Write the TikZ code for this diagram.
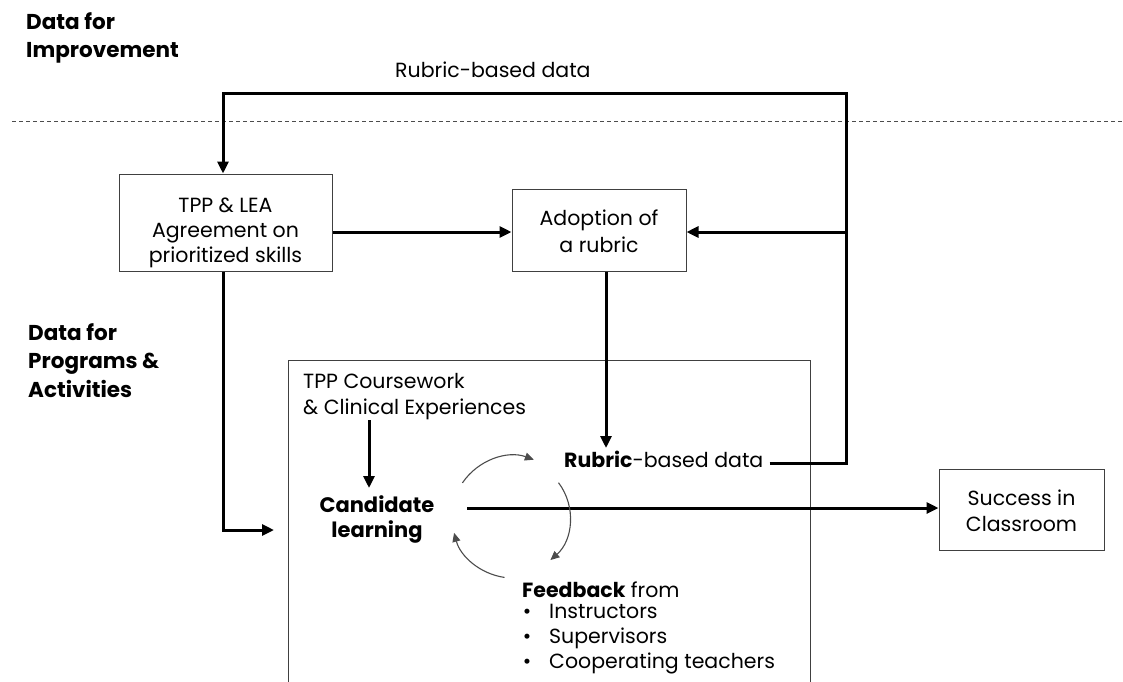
\documentclass[tikz,border=0pt]{standalone}
\usepackage{fontspec}
\setmainfont{Poppins}
\usetikzlibrary{arrows.meta}
\begin{document}
\begin{tikzpicture}[x=1pt,y=-1pt,
  box/.style={draw=black!75,line width=1pt,inner sep=0pt},
  t/.style={font=\fontsize{20.5}{25}\selectfont,inner sep=0pt,anchor=base},
  tl/.style={t,anchor=base west},
  tb/.style={font=\fontsize{21}{25}\selectfont\bfseries,inner sep=0pt,anchor=base},
  head/.style={font=\fontsize{21.5}{28}\selectfont\bfseries,inner sep=0pt,anchor=base west},
  flow/.style={line width=3pt,-{Triangle[length=12pt,width=11pt]}},
  line/.style={line width=3pt},
  cyc/.style={draw=black!70,line width=1.1pt,-{Triangle[length=9pt,width=8pt]}}]
\useasboundingbox (0,0) rectangle (1123,681);
% headings
\node[head] (h1a) at (26,29) {Data for};
\node[head] (h1b) at (26,57) {Improvement};
\node[head] (h2a) at (28,340) {Data for};
\node[head] (h2b) at (28,368.5) {Programs \&};
\node[head] (h2c) at (28,397) {Activities};
% dashed separator
\draw[black!70,line width=0.9pt,dash pattern=on 4pt off 3pt] (12,121) -- (1123,121);
% boxes
\node[box,minimum width=213pt,minimum height=97pt] (tpp) at (225.5,222.5) {};
\node[t] (tpp1) at (225.5,212) {TPP \& LEA};
\node[t] (tpp2) at (225.5,237) {Agreement on};
\node[t] (tpp3) at (225.5,262) {prioritized skills};
\node[box,minimum width=174pt,minimum height=82pt] (adopt) at (599,230) {};
\node[t] (ad1) at (599,225) {Adoption of};
\node[t] (ad2) at (599,252) {a rubric};
\node[box,minimum width=165pt,minimum height=81pt] (succ) at (1021.5,509.5) {};
\node[t] (su1) at (1021.5,505) {Success in};
\node[t] (su2) at (1021.5,531) {Classroom};
% main container (open at bottom)
\draw[black!75,line width=1pt] (288,690) -- (288,360) -- (810,360) -- (810,690);
\node[tl] (co1) at (303,388) {TPP Coursework};
\node[tl] (co2) at (303,414) {\& Clinical Experiences};
\node[tb] (cand1) at (377,512) {Candidate};
\node[tb] (cand2) at (377,537) {learning};
\node[tl] (rbd) at (564,467) {\textbf{Rubric}-based data};
\node[tl] (fb) at (522,597) {\textbf{Feedback} from};
\node[t] (d1) at (527,618) {•};
\node[t] (d2) at (527,643) {•};
\node[t] (d3) at (527,668) {•};
\node[tl] (b1) at (549,618) {Instructors};
\node[tl] (b2) at (549,643) {Supervisors};
\node[tl] (b3) at (549,668) {Cooperating teachers};
% top label
\node[tl] (toplab) at (395,77) {Rubric-based data};
% coordinates
\coordinate (rtop) at (846,93);
\coordinate (ltop) at (223,93);
\coordinate (rmid) at (846,232);
\coordinate (rbot) at (846,463);
\coordinate (lbot) at (223,530);
\coordinate (mainL) at (274,530);
\coordinate (rbdTop) at (606,448);
\coordinate (candB) at (369,488);
\coordinate (coB) at (369,420);
\coordinate (candE) at (467,508);
% connectors
\draw[line,line join=miter] ([xshift=6pt]rbd.east |- rbot) -- (rbot) -- (rtop) -- (ltop) -- ++(0,1);
\draw[flow] (ltop) -- (tpp.north -| ltop);
\draw[flow] (rmid) -- (adopt.east |- rmid);
\draw[flow] (tpp.east |- rmid) -- (adopt.west |- rmid);
\draw[flow] (adopt.south -| rbdTop) -- (rbdTop);
\draw[line,line join=miter] (tpp.south -| lbot) -- (lbot) -- ++(1,0);
\draw[flow] (lbot) -- (mainL);
\draw[flow] (coB) -- (candB);
\draw[flow] (candE) -- (succ.west |- candE);
% cycle arcs
\draw[cyc] (513,517) ++(214:61) arc[start angle=214,end angle=290,radius=61];
\draw[cyc] (513,517) ++(-37:57) arc[start angle=-37,end angle=49,radius=57];
\draw[cyc] (513,517) ++(98:61) arc[start angle=98,end angle=165,radius=61];
\end{tikzpicture}
\end{document}
